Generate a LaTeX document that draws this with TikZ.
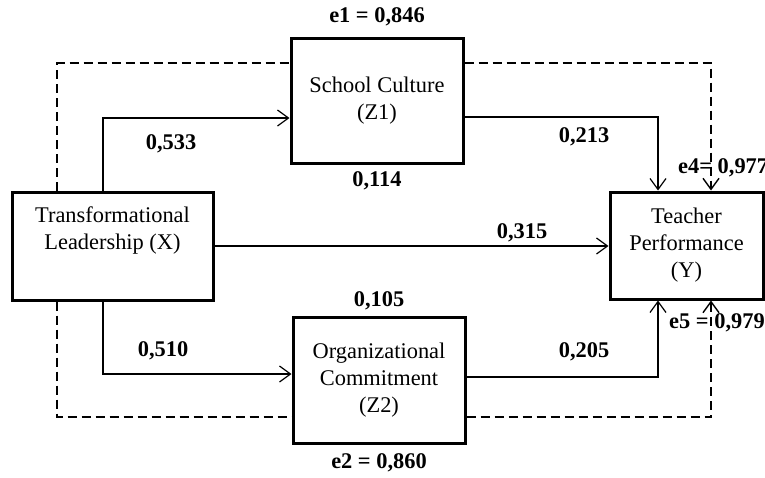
\documentclass[tikz,border=0pt]{standalone}
\usepackage{fontspec}
\setmainfont{Liberation Serif}
\usetikzlibrary{arrows.meta}
\begin{document}
\begin{tikzpicture}[x=1pt,y=-1pt,
  every node/.style={font=\fontsize{22.4}{27}\selectfont},
  varbox/.style={draw,line width=3pt,inner sep=0pt,align=center},
  val/.style={font=\fontsize{22.4}{27}\selectfont\bfseries,inner sep=0pt},
  arr/.style={line width=1.2pt,-{Straight Barb[length=11pt,width=16pt]}},
  dline/.style={line width=1.4pt,dash pattern=on 9pt off 5pt},
  darr/.style={line width=1.4pt,dash pattern=on 9pt off 5pt,-{Straight Barb[length=11pt,width=16pt]}}]
\useasboundingbox (0,0) rectangle (765,477);
% boxes
\node[varbox,minimum width=201pt,minimum height=108pt] (X) at (112.5,246) {Transformational\\Leadership (X)\\ \strut};
\node[varbox,minimum width=172pt,minimum height=125pt] (Z1) at (377,100.5) {School Culture\\(Z1)};
\node[varbox,minimum width=172pt,minimum height=126pt] (Z2) at (379,380) {Organizational\\Commitment\\(Z2)};
\node[varbox,minimum width=153pt,minimum height=107pt] (Y) at (686.5,245.5) {Teacher\\Performance\\(Y)};
% solid paths
\draw[arr] ([xshift=-9.5pt]X.north) |- ([yshift=-17.5pt]Z1.west);
\draw[arr] ([xshift=-9.5pt]X.south) |- ([yshift=6pt]Z2.west);
\draw[arr] ([yshift=-16.5pt]Z1.east) -| ([xshift=-28.5pt]Y.north);
\draw[arr] ([yshift=3pt]Z2.east) -| ([xshift=-28.5pt]Y.south);
\draw[arr] (X.east) -- (X.east -| Y.west);
% dashed paths
\draw[dline] ([xshift=-55.5pt]X.north) |- ([yshift=37.5pt]Z1.west);
\draw[darr] ([yshift=37.5pt]Z1.east) -| ([xshift=24.5pt]Y.north);
\draw[dline] ([xshift=-55.5pt]X.south) |- ([yshift=-37pt]Z2.west);
\draw[darr] ([yshift=-37pt]Z2.east) -| ([xshift=24.5pt]Y.south);
% values
\node[val] (e1) at (377,17) {e1 = 0,846};
\node[val] (p533) at (171,144) {0,533};
\node[val] (p114) at (377,181) {0,114};
\node[val] (p213) at (584,137) {0,213};
\node[val] (p315) at (522,233) {0,315};
\node[val] (p105) at (379,301) {0,105};
\node[val] (p510) at (163,351) {0,510};
\node[val] (p205) at (584,352) {0,205};
\node[val] (e2) at (379,463) {e2 = 0,860};
\node[val,anchor=west] (e4) at (678,168) {e4= 0,977};
\node[val,anchor=west] (e5) at (669,323) {e5 = 0,979};
\end{tikzpicture}
\end{document}
